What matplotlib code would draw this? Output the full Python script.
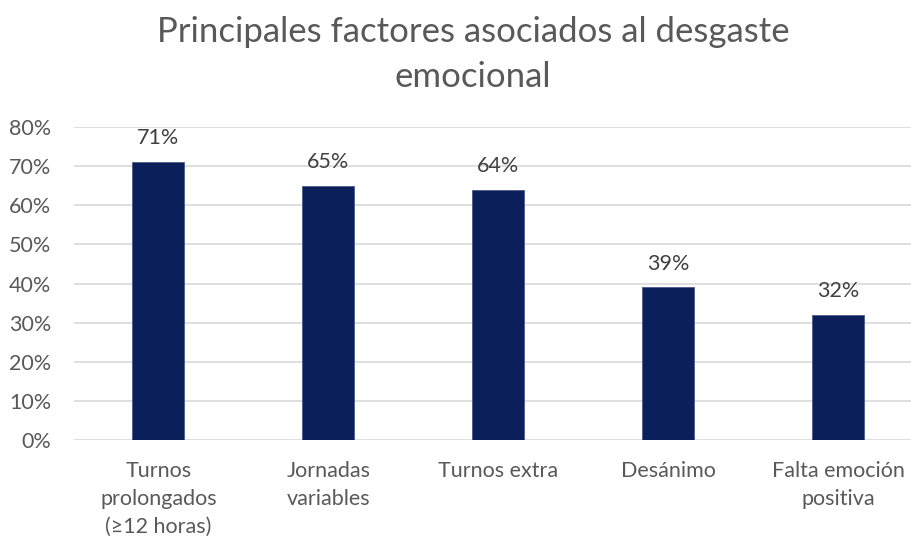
import matplotlib
matplotlib.use("Agg")
import matplotlib.pyplot as plt
from matplotlib.ticker import FuncFormatter, MultipleLocator

categories = ["Turnos\nprolongados\n(≥12 horas)", "Jornadas\nvariables", "Turnos extra",
              "Desánimo", "Falta emoción\npositiva"]
values = [71, 65, 64, 39, 32]
labels = ["71%", "65%", "64%", "39%", "32%"]

plt.rcParams['font.family'] = ['Lato', 'DejaVu Sans']
gray = "#595959"
navy = "#0B1F5B"

fig = plt.figure(figsize=(9.11, 5.39), dpi=100)
W, H = 911, 539
left, right = 73.5, 923.0
top, bottom = 127.0, 440.0
ax = fig.add_axes([left / W, 1 - bottom / H, (right - left) / W, (bottom - top) / H])

x = list(range(len(categories)))
ax.bar(x, values, width=0.306, color=navy, edgecolor="#4a5a8a", linewidth=0.6, zorder=3)
for xi, v, lab in zip(x, values, labels):
    ax.annotate(lab, (xi, v), xytext=(0, 10), textcoords="offset points",
                ha="center", va="bottom", fontsize=15.5, color="#404040")

ax.set_xlim(-0.5, len(categories) - 0.5)
ax.set_ylim(0, 80)
ax.yaxis.set_major_locator(MultipleLocator(10))
ax.yaxis.set_major_formatter(FuncFormatter(lambda v, p: f"{int(v)}%"))
ax.grid(axis="y", color="#d9d9d9", linewidth=1.2, zorder=0)
for s in ax.spines.values():
    s.set_visible(False)
ax.tick_params(axis="both", length=0, labelsize=15.5, colors=gray)
ax.tick_params(axis="y", pad=16)
ax.tick_params(axis="x", pad=15)
ax.set_xticks(x)
ax.set_xticklabels(categories, linespacing=1.5)

fig.text(473 / W, 1 - 16 / H, "Principales factores asociados al desgaste\nemocional",
         ha="center", va="top", fontsize=25, color=gray, linespacing=1.5)

fig.savefig("out.png", dpi=100)
